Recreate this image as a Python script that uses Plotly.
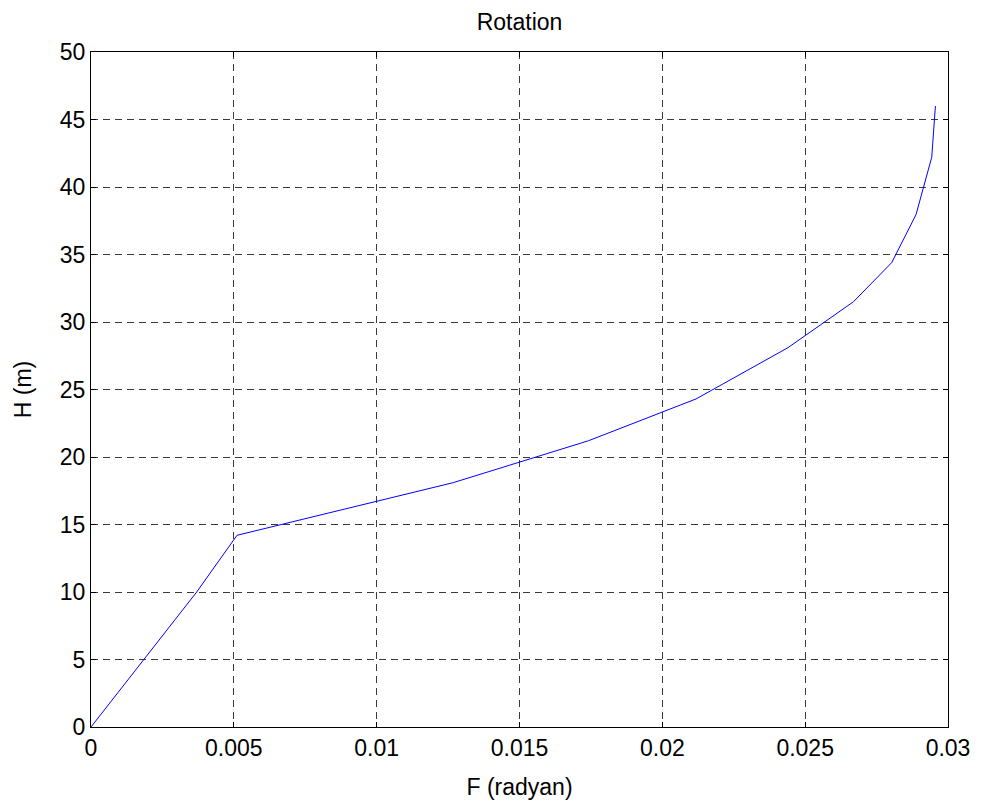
import plotly.graph_objects as go

# Data
F_radyan = [0, 0.0037, 0.00511, 0.01268, 0.01741, 0.02118, 0.0244, 0.02669, 0.02803, 0.02888, 0.02943, 0.02956]
H_m = [0, 10, 14.2, 18.1, 21.2, 24.3, 28.1, 31.5, 34.4, 37.95, 42.2, 46.0]

x_ticks = [0, 0.005, 0.01, 0.015, 0.02, 0.025, 0.03]
x_ticktext = ["0", "0.005", "0.01", "0.015", "0.02", "0.025", "0.03"]
y_ticks = [0, 5, 10, 15, 20, 25, 30, 35, 40, 45, 50]

FONT = "Liberation Sans, Arial, Helvetica, sans-serif"
FS = 23

fig = go.Figure()
fig.add_trace(go.Scatter(x=F_radyan, y=H_m, mode="lines",
                         line=dict(color="#0000FF", width=1), showlegend=False))

axis_common = dict(
    showline=True, linecolor="black", linewidth=1, mirror="ticks",
    ticks="inside", ticklen=5, tickcolor="black", tickwidth=1,
    showgrid=True, gridcolor="#3a3a3a", gridwidth=1, griddash="7px,5px",
    zeroline=False, tickfont=dict(family=FONT, size=FS, color="black"),
)

fig.update_layout(
    width=983, height=803,
    paper_bgcolor="white", plot_bgcolor="white",
    margin=dict(l=83, r=43, t=44, b=84),
    font=dict(family=FONT, size=FS, color="black"),
    title=dict(text="Rotation", x=0.5, xanchor="center", xref="paper",
               y=1 - 14 / 803, yref="container", yanchor="middle",
               font=dict(family=FONT, size=FS, color="black")),
    xaxis=dict(range=[0, 0.03], tickvals=x_ticks, ticktext=x_ticktext,
               title=dict(text="F (radyan)", standoff=19,
                          font=dict(family=FONT, size=FS, color="black")),
               **axis_common),
    yaxis=dict(range=[0, 50], tickvals=y_ticks,
               title=dict(text="H (m)", standoff=21,
                          font=dict(family=FONT, size=FS, color="black")),
               **axis_common),
)

fig.write_html("out.html")
